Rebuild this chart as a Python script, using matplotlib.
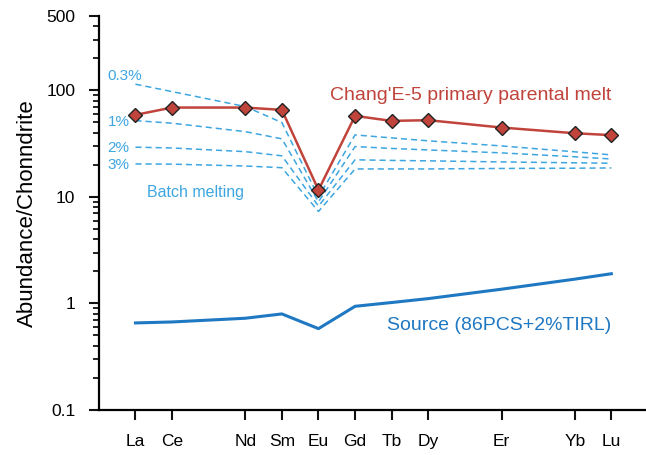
import matplotlib
matplotlib.use('Agg')
import matplotlib.pyplot as plt
from matplotlib.ticker import LogLocator, NullFormatter, FixedLocator, FixedFormatter

plt.rcParams['font.family'] = ['Liberation Sans', 'DejaVu Sans']

# REE order (Pr at 2, Ho at 9, Tm at 11 are not labelled)
elements = ["La", "Ce", "Nd", "Sm", "Eu", "Gd", "Tb", "Dy", "Er", "Yb", "Lu"]
positions = [0, 1, 3, 4, 5, 6, 7, 8, 10, 12, 13]

melt = [58.9, 69.0, 69.0, 65.6, 11.6, 57.6, 51.7, 52.5, 44.8, 39.6, 38.0]
source = [0.656, 0.67, 0.726, 0.797, 0.58, 0.94, 1.02, 1.11, 1.36, 1.69, 1.90]

batch_labels = ["0.3%", "1%", "2%", "3%"]
batch = [
    [114.3, 97.4, 70.5, 49.9, 10.0, 38.2, 35.8, 33.6, 30.1, 26.5, 24.8],
    [52.0, 49.2, 41.0, 35.1, 9.0, 29.7, 28.5, 27.6, 25.9, 23.8, 22.7],
    [29.3, 28.8, 26.6, 24.3, 8.2, 22.3, 22.0, 21.8, 21.3, 20.9, 20.7],
    [20.4, 20.3, 19.5, 18.8, 7.3, 18.3, 18.3, 18.3, 18.5, 18.6, 18.7],
]
label_y = [137, 50.6, 28.8, 19.9]

red = "#C0443C"
light_blue = "#3DA6E0"
dark_blue = "#1F78C2"

fig = plt.figure(figsize=(6.46, 4.55), dpi=100)
ax = fig.add_axes([0.153, 0.099, 0.85, 0.866])

for row in batch:
    ax.plot(positions, row, color=light_blue, linewidth=1.1, dashes=(4, 2.6))

ax.plot(positions, source, color=dark_blue, linewidth=2.2)
ax.plot(positions, melt, color=red, linewidth=1.8, marker='D', markersize=7,
        markerfacecolor=red, markeredgecolor="#222222", markeredgewidth=1.0, zorder=5)

# labels for batch melting curves
for lab, yy in zip(batch_labels, label_y):
    ax.text(-0.76, yy, lab, color=light_blue, fontsize=11, ha='left', va='center')
ax.text(1.63, 11.1, "Batch melting", color=light_blue, fontsize=11.5, ha='center', va='center')
ax.text(13.0, 88.7, "Chang'E-5 primary parental melt", color=red, fontsize=14,
        ha='right', va='center')
ax.text(13.0, 0.62, "Source (86PCS+2%TIRL)", color=dark_blue, fontsize=14,
        ha='right', va='center')

ax.set_yscale('log')
ax.set_ylim(0.1, 500)
ax.set_xlim(-1, 14)
ax.yaxis.set_major_locator(FixedLocator([0.1, 1, 10, 100, 500]))
ax.yaxis.set_major_formatter(FixedFormatter(["0.1", "1", "10", "100", "500"]))
ax.yaxis.set_minor_locator(LogLocator(base=10, subs=range(2, 10)))
ax.yaxis.set_minor_formatter(NullFormatter())
ax.set_xticks(positions)
ax.set_xticklabels(elements)

ax.set_ylabel("Abundance/Chonndrite", fontsize=16, labelpad=6)
ax.tick_params(axis='both', which='major', direction='out', length=7, width=1.5,
               labelsize=12.5, color='#111111')
ax.tick_params(axis='y', which='minor', direction='out', length=4.5, width=1.2)
ax.tick_params(axis='x', pad=10)
ax.tick_params(axis='y', pad=10)

ax.spines['top'].set_visible(False)
ax.spines['right'].set_visible(False)
ax.spines['left'].set_linewidth(1.6)
ax.spines['bottom'].set_linewidth(1.6)

fig.savefig("out.png", dpi=100)
